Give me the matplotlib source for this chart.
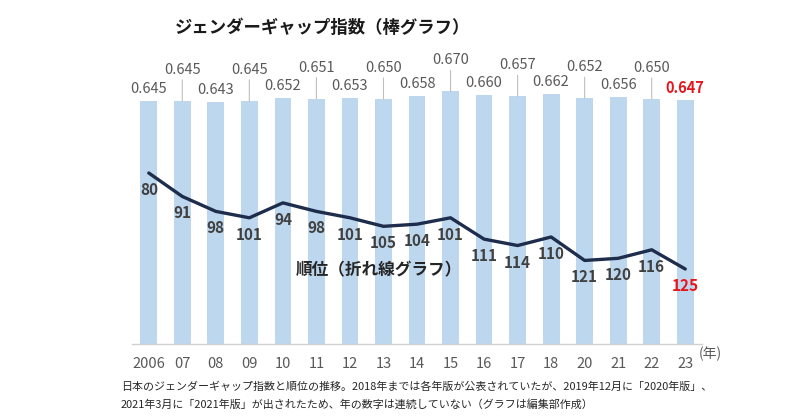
import matplotlib
matplotlib.use("Agg")
import matplotlib.pyplot as plt
import numpy as np

plt.rcParams['font.family'] = ['Noto Sans CJK JP', 'DejaVu Sans']

years = ["2006", "07", "08", "09", "10", "11", "12", "13", "14", "15",
         "16", "17", "18", "20", "21", "22", "23"]
gap_index = [0.645, 0.645, 0.643, 0.645, 0.652, 0.651, 0.653, 0.650, 0.658,
             0.670, 0.660, 0.657, 0.662, 0.652, 0.656, 0.650, 0.647]
gap_labels = ["0.645", "0.645", "0.643", "0.645", "0.652", "0.651", "0.653", "0.650",
              "0.658", "0.670", "0.660", "0.657", "0.662", "0.652", "0.656", "0.650", "0.647"]
ranks = [80, 91, 98, 101, 94, 98, 101, 105, 104, 101, 111, 114, 110, 121, 120, 116, 125]

title = "ジェンダーギャップ指数（棒グラフ）"
line_title = "順位（折れ線グラフ）"
year_unit = "(年)"
caption1 = "日本のジェンダーギャップ指数と順位の推移。2018年までは各年版が公表されていたが、2019年12月に「2020年版」、"
caption2 = "2021年3月に「2021年版」が出されたため、年の数字は連続していない（グラフは編集部作成）"

W, H = 800, 418
fig = plt.figure(figsize=(W / 100, H / 100), dpi=100)
fig.patch.set_facecolor("white")

def fx(px):
    return px / W

def fy(py):
    return 1 - py / H

ax_l, ax_r, ax_t, ax_b = 132, 702, 40, 344
ax = fig.add_axes([fx(ax_l), fy(ax_b), (ax_r - ax_l) / W, (ax_b - ax_t) / H])
x = np.arange(len(years))
bar_color = "#bdd7ee"
ax.bar(x, gap_index, width=0.5, color=bar_color, zorder=1)
ax.set_xlim(-0.5, len(years) - 0.5)
ax.set_ylim(0, (ax_b - ax_t) / 377.0)
for s in ["top", "right", "left"]:
    ax.spines[s].set_visible(False)
ax.spines["bottom"].set_color("#d0d0d0")
ax.spines["bottom"].set_linewidth(1.0)
ax.set_yticks([])
ax.set_xticks(x)
ax.set_xticklabels(years, fontsize=10.5, color="#595959")
ax.tick_params(axis="x", length=0, pad=9)

gray = "#595959"
for i, (v, lab) in enumerate(zip(gap_index, gap_labels)):
    last = i == len(years) - 1
    if i % 2 == 1:
        ax.annotate("", xy=(i, v), xytext=(0, 21), textcoords="offset pixels",
                    xycoords="data",
                    arrowprops=dict(arrowstyle="-", color="#bfbfbf", lw=0.8,
                                    shrinkA=0, shrinkB=0))
        ax.annotate(lab, xy=(i, v), xytext=(0, 31), textcoords="offset pixels",
                    ha="center", va="center", fontsize=10.5, color=gray)
    else:
        ax.annotate(lab, xy=(i, v), xytext=(0, 12), textcoords="offset pixels",
                    ha="center", va="center", fontsize=10.5,
                    color="#e8141c" if last else gray,
                    fontweight="bold" if last else "normal")

ax2 = fig.add_axes(ax.get_position(), sharex=ax)
ax2.patch.set_alpha(0)
ax2.plot(x, ranks, color="#1f2d4d", lw=2.4, solid_capstyle="round",
         solid_joinstyle="round", zorder=3)
top_rank = 80 - (173 - ax_t) / 2.133
bot_rank = top_rank + (ax_b - ax_t) / 2.133
ax2.set_ylim(bot_rank, top_rank)
for s in ax2.spines.values():
    s.set_visible(False)
ax2.set_yticks([])
ax2.tick_params(axis="x", length=0, labelbottom=False)
for i, r in enumerate(ranks):
    last = i == len(years) - 1
    ax2.annotate(str(r), xy=(i, r), xytext=(0, -17), textcoords="offset pixels",
                 ha="center", va="center", fontsize=11, fontweight="bold",
                 color="#e8141c" if last else "#404040")

fig.text(fx(710), fy(354), year_unit, ha="center", va="center", fontsize=10,
         color="#595959")
fig.text(fx(322), fy(28), title, ha="center", va="center", fontsize=12.5,
         fontweight="bold", color="#1a1a1a")
fig.text(fx(379), fy(270), line_title, ha="center", va="center", fontsize=12,
         fontweight="bold", color="#262626")
fig.text(fx(121), fy(387), caption1, ha="left", va="center", fontsize=7.9,
         color="#262626")
fig.text(fx(121), fy(404), caption2, ha="left", va="center", fontsize=7.9,
         color="#262626")

fig.savefig("out.png", dpi=100, facecolor="white")
